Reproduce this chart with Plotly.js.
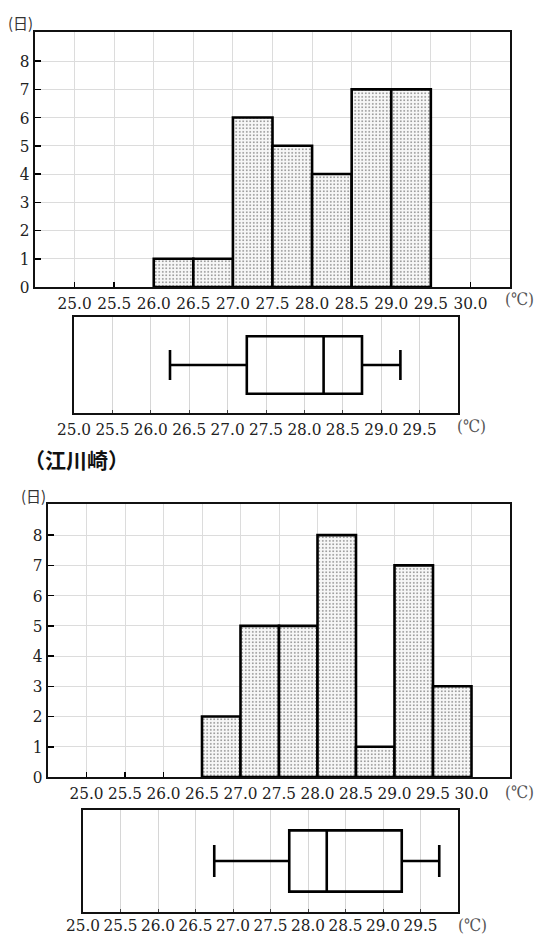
<!DOCTYPE html>
<html>
<head>
<meta charset="utf-8">
<script src="https://cdn.plot.ly/plotly-3.0.1.min.js"></script>
<style>html,body{margin:0;padding:0;background:#fff;}#chart{width:538px;height:936px;}</style>
</head>
<body>
<div id="chart"></div>
<script>
// ---- data ----
const binStarts = [25.0, 25.5, 26.0, 26.5, 27.0, 27.5, 28.0, 28.5, 29.0, 29.5, 30.0];
const countsTop = [0, 0, 1, 1, 6, 5, 4, 7, 7, 0, 0];
const countsBottom = [0, 0, 0, 2, 5, 5, 8, 1, 7, 3, 0];
const binWidth = 0.5;

const boxTop = {lowerfence: 26.25, q1: 27.25, median: 28.25, q3: 28.75, upperfence: 29.25};
const boxBottom = {lowerfence: 26.75, q1: 27.75, median: 28.25, q3: 29.25, upperfence: 29.75};

const histTicks = [25.0, 25.5, 26.0, 26.5, 27.0, 27.5, 28.0, 28.5, 29.0, 29.5, 30.0];
const boxTicks = [25.0, 25.5, 26.0, 26.5, 27.0, 27.5, 28.0, 28.5, 29.0, 29.5];
const yTicks = [0, 1, 2, 3, 4, 5, 6, 7, 8];
const titleText = '（江川崎）';
const dayLabel = '(日)';
const unitLabel = '(℃)';

// ---- build ----
const W = 538, H = 936;
const px = v => v / W;
const py = v => 1 - v / H;
const SERIF = 'DejaVu Serif Condensed';
const CJK = 'Noto Sans CJK JP';

function barTrace(counts, xa, ya) {
  const xs = [], ys = [];
  counts.forEach((c, i) => { if (c > 0) { xs.push(binStarts[i]); ys.push(c); } });
  return {
    type: 'bar', x: xs, y: ys, width: binWidth, offset: 0,
    xaxis: xa, yaxis: ya, hoverinfo: 'skip',
    marker: {
      color: '#f6f6f6',
      line: {color: '#000', width: 2.6},
      pattern: {shape: '.', fgcolor: '#555', bgcolor: '#f7f7f7', size: 3.5, solidity: 0.15}
    }
  };
}
function boxTrace(b, xa, ya) {
  return {
    type: 'box', orientation: 'h', y: [0],
    q1: [b.q1], median: [b.median], q3: [b.q3],
    lowerfence: [b.lowerfence], upperfence: [b.upperfence],
    width: 0.6, whiskerwidth: 0.52, boxpoints: false,
    line: {color: '#000', width: 2.6}, fillcolor: 'rgba(255,255,255,0)',
    xaxis: xa, yaxis: ya, hoverinfo: 'skip'
  };
}

const tf = () => ({family: SERIF, size: 17, color: '#222'});
const histX = (dom) => ({
  domain: dom, range: [24.5, 30.5], tickvals: histTicks, tickformat: '.1f',
  ticks: 'inside', ticklen: 5, tickwidth: 1.5, tickcolor: '#000',
  showgrid: true, gridcolor: '#dcdcdc', gridwidth: 1, zeroline: false,
  showline: true, linecolor: '#111', linewidth: 2, mirror: true,
  tickfont: tf(), fixedrange: true
});
const histY = (dom, anchor) => ({
  domain: dom, range: [0, 9.03], tickvals: yTicks,
  ticks: 'inside', ticklen: 6, tickwidth: 1.5, tickcolor: '#000',
  showgrid: true, gridcolor: '#dcdcdc', gridwidth: 1, zeroline: false,
  showline: true, linecolor: '#111', linewidth: 2, mirror: true,
  tickfont: tf(), anchor: anchor, fixedrange: true
});
const boxX = (dom) => ({
  domain: dom, range: [25, 30], tickvals: boxTicks, tickformat: '.1f',
  ticks: 'inside', ticklen: 3, tickwidth: 1, tickcolor: '#444',
  showgrid: true, gridcolor: '#d6d6d6', gridwidth: 1, zeroline: false,
  showline: true, linecolor: '#111', linewidth: 1.6, mirror: true,
  tickfont: tf(), fixedrange: true
});
const boxY = (dom, anchor) => ({
  domain: dom, range: [-0.5, 0.5], showticklabels: false, ticks: '',
  showgrid: false, zeroline: false, showline: true, linecolor: '#111', linewidth: 1.6,
  mirror: true, anchor: anchor, fixedrange: true
});

const data = [
  barTrace(countsTop, 'x', 'y'),
  boxTrace(boxTop, 'x2', 'y2'),
  barTrace(countsBottom, 'x3', 'y3'),
  boxTrace(boxBottom, 'x4', 'y4')
];

const ann = (text, x, y, opts) => Object.assign({
  text: text, xref: 'paper', yref: 'paper', x: px(x), y: py(y),
  xanchor: 'center', yanchor: 'middle', showarrow: false,
  font: {family: CJK, size: 15, color: '#333'}
}, opts || {});
const unitFont = () => ({family: SERIF, size: 17, color: '#555'});

const layout = {
  width: W, height: H, margin: {l: 0, r: 0, t: 0, b: 0},
  font: {family: SERIF},
  paper_bgcolor: '#fff', plot_bgcolor: '#fff', showlegend: false,
  xaxis: Object.assign(histX([px(35), px(510)]), {anchor: 'y'}),
  yaxis: histY([py(287), py(32)], 'x'),
  xaxis2: Object.assign(boxX([px(74), px(458)]), {anchor: 'y2'}),
  yaxis2: boxY([py(413), py(317)], 'x2'),
  xaxis3: Object.assign(histX([px(48), px(510)]), {anchor: 'y3'}),
  yaxis3: histY([py(777), py(504)], 'x3'),
  xaxis4: Object.assign(boxX([px(83), px(458)]), {anchor: 'y4', ticklabelstandoff: -3}),
  yaxis4: boxY([py(912), py(810)], 'x4'),
  annotations: [
    ann(dayLabel, 20, 22),
    ann(unitLabel, 519, 299, {font: unitFont()}),
    ann(unitLabel, 471, 426, {font: unitFont()}),
    ann(titleText, 22, 459, {xanchor: 'left', font: {family: CJK, size: 21, color: '#111', weight: 'bold'}}),
    ann(dayLabel, 33, 495),
    ann(unitLabel, 519, 792, {font: unitFont()}),
    ann(unitLabel, 472, 925, {font: unitFont()})
  ]
};

Plotly.newPlot('chart', data, layout, {staticPlot: true, displayModeBar: false});
</script>
</body>
</html>
